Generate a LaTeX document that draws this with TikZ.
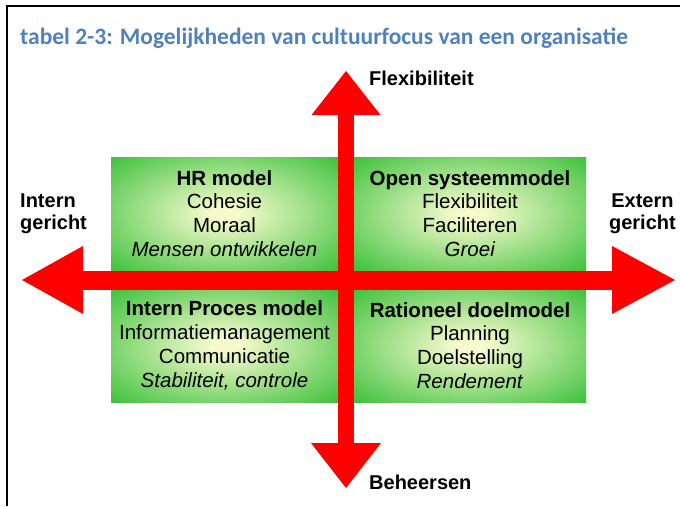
\documentclass[tikz,border=0pt]{standalone}
\usepackage{fontspec}
\setmainfont{Liberation Sans}
\newfontfamily\titlefont{Carlito}
\usetikzlibrary{arrows.meta,positioning,calc}
\definecolor{titleblue}{RGB}{79,129,189}
\definecolor{glowin}{RGB}{246,250,205}
\definecolor{glowout}{RGB}{58,192,58}
\pgfdeclareradialshading{glow}{\pgfpoint{0bp}{0bp}}{color(0bp)=(glowin); color(3bp)=(glowin); color(36bp)=(glowout); color(50bp)=(glowout)}
\tikzstyle{every node}+=[inner sep=0pt]
\tikzstyle{quadrant}=[shading=glow,minimum width=227pt,minimum height=113pt,align=center,font=\fontsize{20.5}{23.8}\selectfont]
\tikzstyle{axislabel}=[font=\bfseries\fontsize{20}{22}\selectfont]
\tikzstyle{haxis}=[red,line width=19pt,{Triangle[length=61pt,width=68pt,line width=0pt]}-{Triangle[length=63pt,width=68pt,line width=0pt]}]
\tikzstyle{vaxis}=[red,line width=16pt,{Triangle[length=44pt,width=69pt,line width=0pt]}-{Triangle[length=45pt,width=70pt,line width=0pt]}]

\begin{document}
\begin{tikzpicture}[x=1pt,y=-1pt]
\useasboundingbox (0,0) rectangle (680,506);
% frame and caption
\draw[line width=2.5pt] (680,6) -- (7,6) -- (7,506);
\node[anchor=base west,text=titleblue,font=\titlefont\bfseries\fontsize{23.5}{26}\selectfont] (title) at (20,44) {tabel 2-3: Mogelijkheden van cultuurfocus van een organisatie};

% the four models
\node[quadrant] (hr) at (224.5,213.5) {\textbf{HR model}\\Cohesie\\Moraal\\\textit{Mensen ontwikkelen}};
\node[quadrant,minimum width=232pt] (open) at (470,213.5) {\textbf{Open systeemmodel}\\Flexibiliteit\\Faciliteren\\\textit{Groei}};
\node[quadrant] (proces) at (224.5,345.5) {\textbf{Intern Proces model}\\Informatiemanagement\\Communicatie\\\textit{Stabiliteit, controle}};
\node[quadrant,minimum width=232pt] (doel) at (470,345.5) {\textbf{Rationeel doelmodel}\\Planning\\Doelstelling\\\textit{Rendement}};

% axes
\coordinate (intern) at (22,280);
\coordinate (extern) at (675,280);
\coordinate (flex) at (346,71);
\coordinate (beh) at (346,488);
\draw[haxis] (intern) -- (extern);
\draw[vaxis] (flex) -- (beh);

\node[axislabel,anchor=west] (flexlabel) at (369,78) {Flexibiliteit};
\node[axislabel,anchor=west] (behlabel) at (369,482) {Beheersen};
\node[axislabel,anchor=west,align=left] (internlabel) at (20,214) {Intern\\gericht};
\node[axislabel,anchor=east,align=center] (externlabel) at (676,214) {Extern\\gericht};
\end{tikzpicture}
\end{document}
